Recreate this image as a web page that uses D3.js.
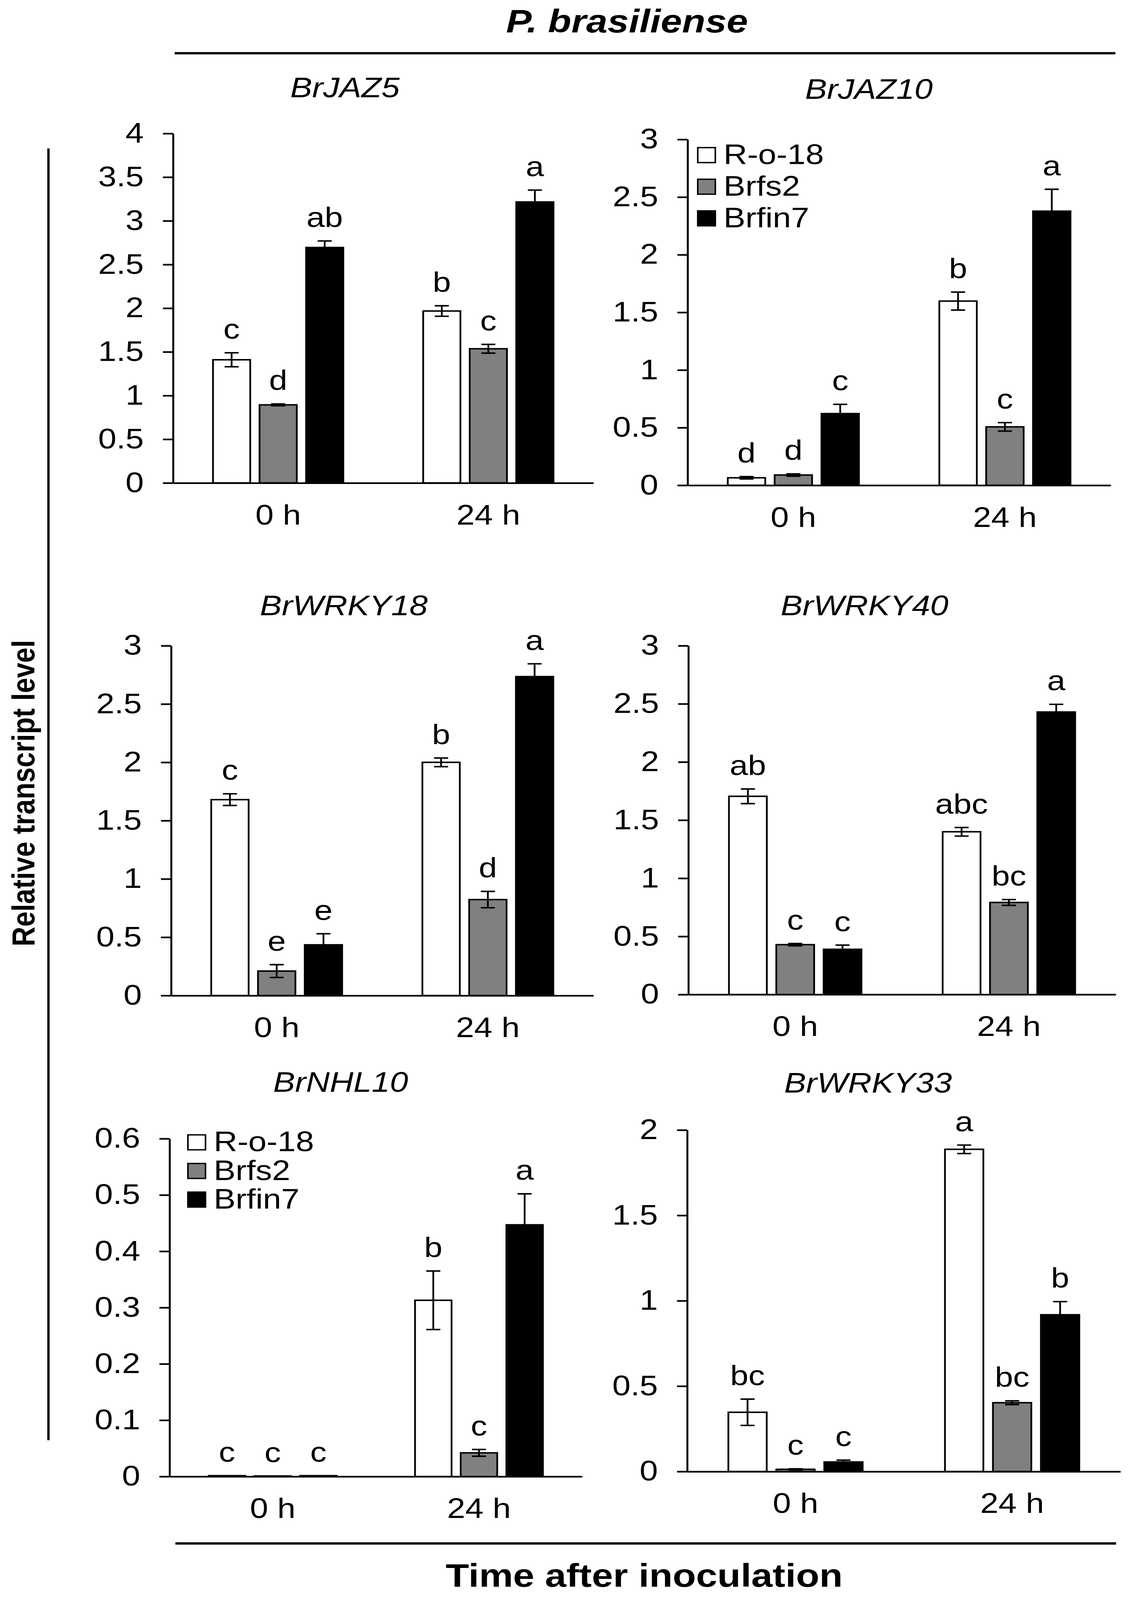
<!DOCTYPE html>
<html>
<head>
<meta charset="utf-8">
<script src="https://cdn.jsdelivr.net/npm/d3@7"></script>
<style>
  html, body { margin: 0; padding: 0; background: #fff; overflow: hidden; }
  svg { display: block; }
  text { font-family: "Liberation Sans", Arial, sans-serif; }
</style>
</head>
<body>
<div id="chart"></div>
<script>
// data
var genes = ["BrJAZ5", "BrJAZ10", "BrWRKY18", "BrWRKY40", "BrNHL10", "BrWRKY33"];
var timepoints = ["0 h", "24 h"];
var lines = ["R-o-18", "Brfs2", "Brfin7"];
var colors = ["#ffffff", "#808080", "#000000"];

// mean[gene][timepoint][line]
var means = [
    [[1.41, 0.894, 2.695], [1.968, 1.536, 3.216]],
    [[0.065, 0.089, 0.622], [1.598, 0.507, 2.378]],
    [[1.68, 0.21, 0.435], [2.0, 0.823, 2.735]],
    [[1.705, 0.429, 0.389], [1.40, 0.792, 2.43]],
    [[0.0015, 0.001, 0.0015], [0.313, 0.042, 0.447]],
    [[0.347, 0.013, 0.056], [1.887, 0.403, 0.918]]
];
var errors = [
    [[0.08, 0.01, 0.075], [0.06, 0.05, 0.136]],
    [[0.01, 0.01, 0.08], [0.078, 0.037, 0.19]],
    [[0.05, 0.055, 0.095], [0.037, 0.07, 0.11]],
    [[0.063, 0.01, 0.036], [0.037, 0.025, 0.066]],
    [[0, 0, 0], [0.052, 0.006, 0.055]],
    [[0.077, 0.003, 0.011], [0.025, 0.011, 0.077]]
];
var letters = [
    [["c", "d", "ab"], ["b", "c", "a"]],
    [["d", "d", "c"], ["b", "c", "a"]],
    [["c", "e", "e"], ["b", "d", "a"]],
    [["ab", "c", "c"], ["abc", "bc", "a"]],
    [["c", "c", "c"], ["b", "c", "a"]],
    [["bc", "c", "c"], ["a", "bc", "b"]]
];
var yTicks = [
    [0, 0.5, 1, 1.5, 2, 2.5, 3, 3.5, 4],
    [0, 0.5, 1, 1.5, 2, 2.5, 3],
    [0, 0.5, 1, 1.5, 2, 2.5, 3],
    [0, 0.5, 1, 1.5, 2, 2.5, 3],
    [0, 0.1, 0.2, 0.3, 0.4, 0.5, 0.6],
    [0, 0.5, 1, 1.5, 2]
];

// panel frames (pixels in the 2895x4807 figure)
var layout = [
    { x0: 443, x1: 1519, y0: 1451, y1: 401, tx: 883, ty: 292 },
    { x0: 1760, x1: 2843, y0: 1458, y1: 419, tx: 2224, ty: 297, legend: [1786, 466, 95] },
    { x0: 438, x1: 1519, y0: 2991, y1: 1940, tx: 880, ty: 1848 },
    { x0: 1762, x1: 2856, y0: 2988, y1: 1940, tx: 2213, ty: 1848 },
    { x0: 434, x1: 1490, y0: 4436, y1: 3421, tx: 872, ty: 3280 },
    { x0: 1759, x1: 2868, y0: 4421, y1: 3395, tx: 2222, ty: 3283 }
];
layout[4].legend = [481, 3432, 86];

var W = 2895, H = 4807;
var fs = 84;

// the window may be shorter than the figure: stretch the figure to fill it
var vw = window.innerWidth || W, vh = window.innerHeight || H;

var svg = d3.select("#chart")
    .append("svg")
    .attr("width", vw)
    .attr("height", vh)
    .attr("viewBox", "0 0 " + W + " " + H)
    .attr("preserveAspectRatio", "none");

// figure frame: title, lines and shared labels
svg.append("text")
    .attr("x", 1605).attr("y", 97)
    .attr("text-anchor", "middle")
    .style("font-size", "98px").style("font-weight", "bold").style("font-style", "italic")
    .text("P. brasiliense");
svg.append("line")
    .attr("x1", 447).attr("x2", 2855).attr("y1", 160).attr("y2", 160)
    .attr("stroke", "#000").attr("stroke-width", 7);
svg.append("line")
    .attr("x1", 124).attr("x2", 124).attr("y1", 446).attr("y2", 4327)
    .attr("stroke", "#000").attr("stroke-width", 6);
svg.append("text")
    .attr("transform", "translate(88,2383) rotate(-90)")
    .attr("text-anchor", "middle")
    .style("font-size", "82px").style("font-weight", "bold")
    .text("Relative transcript level");
svg.append("line")
    .attr("x1", 449).attr("x2", 2857).attr("y1", 4637).attr("y2", 4637)
    .attr("stroke", "#000").attr("stroke-width", 7);
svg.append("text")
    .attr("x", 1649).attr("y", 4767)
    .attr("text-anchor", "middle")
    .style("font-size", "98px").style("font-weight", "bold")
    .text("Time after inoculation");

genes.forEach(function (gene, gi) {
    drawPanel(gi, layout[gi]);
});

function drawPanel(gi, L) {
    var g = svg.append("g");

    var x = d3.scaleBand()
        .domain(timepoints)
        .range([L.x0, L.x1]);
    var inner = d3.scaleBand()
        .domain(lines)
        .range([x.bandwidth() * 0.19, x.bandwidth() * 0.81])
        .paddingInner(0.2);
    var yMax = yTicks[gi][yTicks[gi].length - 1];
    var y = d3.scaleLinear()
        .domain([0, yMax])
        .range([L.y0, L.y1]);

    // title
    g.append("text")
        .attr("x", L.tx).attr("y", L.ty)
        .attr("text-anchor", "middle")
        .style("font-size", fs + "px").style("font-style", "italic")
        .text(genes[gi]);

    // bars
    var rows = [];
    timepoints.forEach(function (t, ti) {
        lines.forEach(function (l, li) {
            rows.push({ t: t, l: l, li: li, v: means[gi][ti][li], e: errors[gi][ti][li], lab: letters[gi][ti][li] });
        });
    });

    g.selectAll("rect.bar")
        .data(rows)
        .enter()
        .append("rect")
        .attr("class", "bar")
        .attr("x", function (d) { return x(d.t) + inner(d.l); })
        .attr("y", function (d) { return y(d.v); })
        .attr("width", inner.bandwidth())
        .attr("height", function (d) { return L.y0 - y(d.v); })
        .attr("fill", function (d) { return colors[d.li]; })
        .attr("stroke", "#000")
        .attr("stroke-width", 4.5);

    // error bars
    var cap = 18;
    var eb = g.selectAll("g.err")
        .data(rows.filter(function (d) { return d.e > 0; }))
        .enter()
        .append("g")
        .attr("class", "err")
        .attr("stroke", "#000")
        .attr("stroke-width", 4.5);
    var cx = function (d) { return x(d.t) + inner(d.l) + inner.bandwidth() / 2; };
    eb.append("line")
        .attr("x1", cx).attr("x2", cx)
        .attr("y1", function (d) { return y(d.v - d.e); })
        .attr("y2", function (d) { return y(d.v + d.e); });
    eb.append("line")
        .attr("x1", function (d) { return cx(d) - cap; })
        .attr("x2", function (d) { return cx(d) + cap; })
        .attr("y1", function (d) { return y(d.v + d.e); })
        .attr("y2", function (d) { return y(d.v + d.e); });
    eb.append("line")
        .attr("x1", function (d) { return cx(d) - cap; })
        .attr("x2", function (d) { return cx(d) + cap; })
        .attr("y1", function (d) { return y(d.v - d.e); })
        .attr("y2", function (d) { return y(d.v - d.e); });

    // significance letters
    g.selectAll("text.lab")
        .data(rows)
        .enter()
        .append("text")
        .attr("class", "lab")
        .attr("x", cx)
        .attr("y", function (d) { return y(d.v + d.e) - 42; })
        .attr("text-anchor", "middle")
        .style("font-size", fs + "px")
        .text(function (d) { return d.lab; });

    // axes
    var yAxis = g.append("g")
        .attr("transform", "translate(" + L.x0 + ",0)")
        .call(d3.axisLeft(y)
            .tickValues(yTicks[gi])
            .tickFormat(d3.format("~g"))
            .tickSize(26)
            .tickSizeOuter(0)
            .tickPadding(49));
    var xAxis = g.append("g")
        .attr("transform", "translate(0," + L.y0 + ")")
        .call(d3.axisBottom(x)
            .tickSize(0)
            .tickSizeOuter(0)
            .tickPadding(65));
    [yAxis, xAxis].forEach(function (a) {
        a.selectAll("path, line").attr("stroke", "#000").attr("stroke-width", 5);
        a.selectAll("text")
            .attr("fill", "#000")
            .style("font-size", fs + "px")
            .style("font-family", "Liberation Sans, Arial, sans-serif");
    });
    xAxis.selectAll(".tick line").remove();

    // legend
    if (L.legend) {
        var lx = L.legend[0], ly = L.legend[1], step = L.legend[2];
        var size = 45;
        g.selectAll("rect.leg")
            .data(lines)
            .enter()
            .append("rect")
            .attr("class", "leg")
            .attr("x", lx)
            .attr("y", function (d, i) { return ly + i * step - size / 2; })
            .attr("width", size)
            .attr("height", size)
            .attr("fill", function (d, i) { return colors[i]; })
            .attr("stroke", "#000")
            .attr("stroke-width", 4);
        g.selectAll("text.leg")
            .data(lines)
            .enter()
            .append("text")
            .attr("class", "leg")
            .attr("x", lx + size + 21)
            .attr("y", function (d, i) { return ly + i * step + 27; })
            .style("font-size", fs + "px")
            .text(function (d) { return d; });
    }
}
</script>
</body>
</html>
